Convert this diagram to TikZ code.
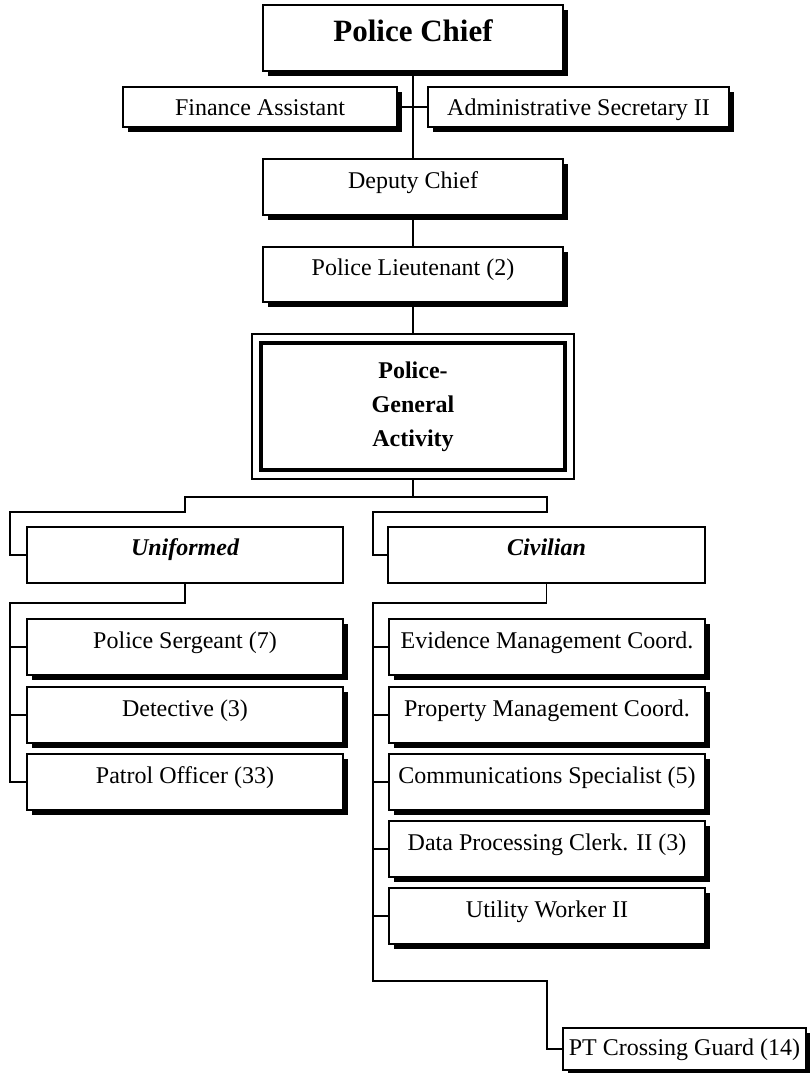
\documentclass[tikz,border=0pt]{standalone}
\usepackage{fontspec}
\setmainfont{Liberation Serif}
\usetikzlibrary{positioning, fit, shadows}

\begin{document}
\begin{tikzpicture}[x=1pt, y=-1pt, line width=1.6pt,
          font=\fontsize{24}{34}\selectfont,
          post/.style={draw, fill=white, inner sep=0pt, outer sep=0pt, text height=29pt, text depth=27pt,
                       drop shadow={shadow xshift=5pt, shadow yshift=-5pt, fill=black, opacity=1}},
          unit/.style={draw, fill=white, inner sep=0pt, outer sep=0pt, text height=28pt, text depth=28pt}]
          \useasboundingbox (0,0) rectangle (809,1073);
          % command chain
          \node[post, minimum width=300pt, text height=37pt, text depth=29pt,
                font=\fontsize{31}{36}\selectfont\bfseries] (chief) at (413,38) {Police Chief};
          \node[post, minimum width=274pt, text height=28pt, text depth=12pt] (fin) at (260,107) {Finance Assistant};
          \node[post, minimum width=301pt, text height=28pt, text depth=12pt] (adm) at (578.5,107) {Administrative Secretary II};
          \node[post, minimum width=300pt] (dep) at (413,187) {Deputy Chief};
          \node[post, minimum width=300pt, text height=28pt] (lt) at (413,274.5) {Police Lieutenant (2)};
          \node[draw, line width=3.5pt, minimum width=304pt, minimum height=127pt, inner sep=0pt, outer sep=0pt,
                align=center, font=\fontsize{24}{34}\selectfont\bfseries] (ga) at (413,406.5) {Police-\\General\\Activity};
          \node[draw, fit=(ga), inner sep=9pt, outer sep=0pt] (gaf) {};
          % divisions
          \node[unit, minimum width=316pt, font=\fontsize{24}{34}\selectfont\bfseries\itshape] (uni) at (185,555) {Uniformed};
          \node[unit, minimum width=317pt, font=\fontsize{24}{34}\selectfont\bfseries\itshape] (civ) at (546.5,555) {Civilian};
          \node[post, minimum width=316pt] (sgt) at (185,647) {Police Sergeant (7)};
          \node[post, minimum width=316pt] (det) at (185,715) {Detective (3)};
          \node[post, minimum width=316pt] (pat) at (185,782) {Patrol Officer (33)};
          \node[post, minimum width=316pt] (evd) at (547,647) {Evidence Management Coord.};
          \node[post, minimum width=316pt] (prop) at (547,715) {Property Management Coord.};
          \node[post, minimum width=316pt] (comm) at (547,782) {Communications Specialist (5)};
          \node[post, minimum width=316pt] (data) at (547,849) {Data Processing Clerk. II (3)};
          \node[post, minimum width=316pt] (util) at (547,916) {Utility Worker II};
          \node[post, minimum width=243pt, text height=27pt, text depth=15pt] (pt) at (684.5,1049) {PT Crossing Guard (14)};
          % bends
          \coordinate (split) at (413,497);
          \coordinate (lstep) at (185,512);
          \coordinate (ltrunk) at (10,512);
          \coordinate (rstep) at (547,512);
          \coordinate (rtrunk) at (373,512);
          \coordinate (utop) at (10,603);
          \coordinate (ctop) at (373,603);
          \coordinate (cbot) at (373,981);
          % lines
          \draw (chief.south) -- (dep.north);
          \draw (fin.east) -- (adm.west);
          \draw (dep.south) -- (lt.north);
          \draw (lt.south) -- (gaf.north);
          \draw (gaf.south) -- (split) -| (lstep) -- (ltrunk) |- (uni.west);
          \draw (split) -| (rstep) -- (rtrunk) |- (civ.west);
          \draw (uni.south) |- (utop) |- (pat.west);
          \draw (utop |- sgt.west) -- (sgt.west);
          \draw (utop |- det.west) -- (det.west);
          \draw (civ.south) |- (ctop) -- (cbot) -| ([xshift=-16pt]pt.west) -- (pt.west);
          \draw (ctop |- evd.west) -- (evd.west);
          \draw (ctop |- prop.west) -- (prop.west);
          \draw (ctop |- comm.west) -- (comm.west);
          \draw (ctop |- data.west) -- (data.west);
          \draw (ctop |- util.west) -- (util.west);
        \end{tikzpicture}
\end{document}
